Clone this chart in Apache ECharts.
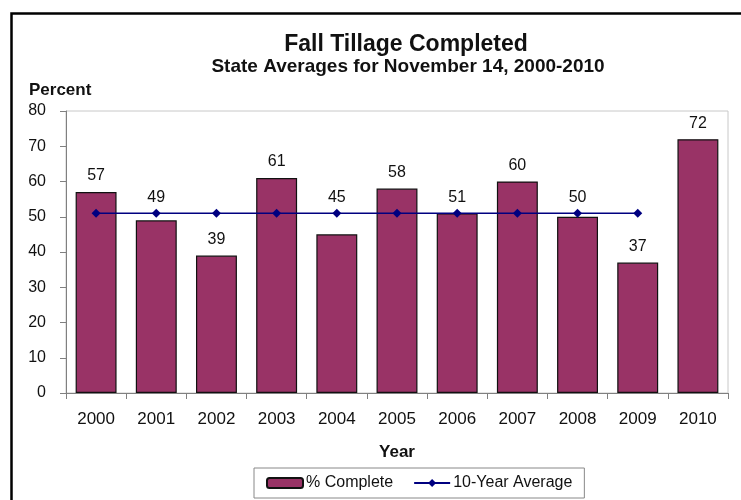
<!DOCTYPE html>
<html>
<head>
<meta charset="utf-8">
<script src="https://cdn.jsdelivr.net/npm/echarts@6/dist/echarts.min.js"></script>
<style>
  html, body { margin: 0; padding: 0; background: #fff; }
  #main { width: 741px; height: 500px; }
</style>
</head>
<body>
<div id="main"></div>
<script>
var years = ["2000", "2001", "2002", "2003", "2004", "2005", "2006", "2007", "2008", "2009", "2010"];
var pctComplete = [57, 49, 39, 61, 45, 58, 51, 60, 50, 37, 72];
var tenYearAvg = [51, 51, 51, 51, 51, 51, 51, 51, 51, 51, null];
var yTicks = [0, 10, 20, 30, 40, 50, 60, 70, 80];

var font = "Liberation Sans, Arial, sans-serif";
var gridTop = 111, gridBottom = 107;
var pxPerUnit = (500 - gridTop - gridBottom) / yTicks[yTicks.length - 1];

// labels of bars just under the average line are lifted above the line, as in the original
var barData = pctComplete.map(function (v, i) {
    var avg = tenYearAvg[i];
    var lift = (avg != null && v < avg && v > avg - 8) ? (avg - v) * pxPerUnit : 0;
    return { value: v, label: { distance: 8 + lift } };
});

var myChart = echarts.init(document.getElementById("main"));
var option = {
    backgroundColor: "#fff",
    animation: false,
    textStyle: { fontFamily: font, color: "#111" },
    title: [
        { text: "Fall Tillage Completed", left: 401, top: 28, textAlign: "center",
          textStyle: { fontSize: 23, fontWeight: "bold", color: "#111", fontFamily: font } },
        { text: "State Averages for November 14, 2000-2010", left: 403, top: 52, textAlign: "center",
          textStyle: { fontSize: 19, fontWeight: "bold", color: "#111", fontFamily: font } }
    ],
    graphic: [{
        type: "rect", left: 9, top: 11,
        shape: { width: 780, height: 540 },
        style: { fill: "none", stroke: "#000", lineWidth: 2.5 }
    }],
    grid: { left: 66, right: 13, top: gridTop, bottom: gridBottom,
            containLabel: false, outerBoundsMode: "none",
            show: true, borderColor: "#c8c8c8", borderWidth: 1 },
    legend: {
        left: 254, top: 468,
        padding: [7, 12, 7, 12], itemGap: 20,
        borderColor: "#888", borderWidth: 1,
        itemWidth: 36, itemHeight: 10,
        textStyle: { fontSize: 16, color: "#111", fontFamily: font, padding: [0, 0, 0, -2] },
        data: ["% Complete", "10-Year Average"]
    },
    xAxis: {
        type: "category", data: years,
        name: "Year", nameLocation: "middle", nameGap: 51,
        nameTextStyle: { fontSize: 17, fontWeight: "bold", color: "#111" },
        axisLine: { lineStyle: { color: "#808080" } },
        axisTick: { show: true, length: 6, alignWithLabel: false, lineStyle: { color: "#808080" } },
        axisLabel: { fontSize: 17, color: "#111", margin: 18 }
    },
    yAxis: {
        type: "value", min: 0, max: 80, interval: 10,
        name: "Percent", nameLocation: "end", nameGap: 12,
        nameTextStyle: { fontSize: 17, fontWeight: "bold", color: "#111", align: "left",
                         padding: [0, 0, 0, -37] },
        axisLine: { show: true, lineStyle: { color: "#808080" } },
        axisTick: { show: true, length: 6, lineStyle: { color: "#808080" } },
        axisLabel: { fontSize: 16, color: "#111", margin: 20 },
        splitLine: { show: false }
    },
    series: [
        {
            name: "% Complete", type: "bar", data: barData, barWidth: "68%",
            itemStyle: { color: "#993366", borderColor: "#111", borderWidth: 1.2 },
            label: { show: true, position: "top", fontSize: 16, color: "#111" },
            z: 2
        },
        {
            name: "10-Year Average", type: "line", data: tenYearAvg,
            symbol: "diamond", symbolSize: 9, showSymbol: true,
            lineStyle: { color: "#000080", width: 1.5 },
            itemStyle: { color: "#000080" },
            z: 3
        }
    ]
};
myChart.setOption(option);
</script>
</body>
</html>
